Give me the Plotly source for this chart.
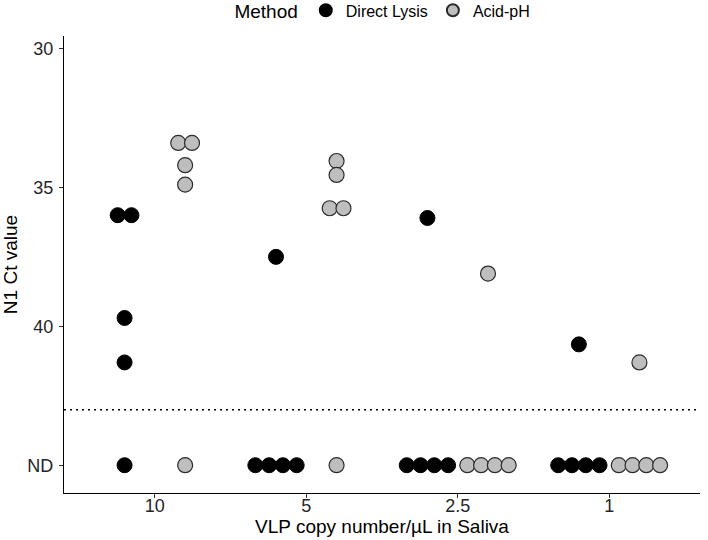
import plotly.graph_objects as go
from collections import defaultdict

# ---- data ----
dose_labels = ["10", "5", "2.5", "1"]
ND = 45  # "not detected" plotted at 45
y_tickvals = [30, 35, 40, 45]
y_ticktext = ["30", "35", "40", "ND"]
cutoff = 43

direct_dose = ["10"] * 5 + ["5"] * 5 + ["2.5"] * 5 + ["1"] * 5
direct_ct = [36.0, 36.0, 39.7, 41.3, ND,
             37.5, ND, ND, ND, ND,
             36.1, ND, ND, ND, ND,
             40.65, ND, ND, ND, ND]

acid_dose = ["10"] * 5 + ["5"] * 5 + ["2.5"] * 5 + ["1"] * 5
acid_ct = [33.4, 33.4, 34.2, 34.9, ND,
           34.05, 34.55, 35.75, 35.75, ND,
           38.1, ND, ND, ND, ND,
           41.3, ND, ND, ND, ND]

# ---- layout helpers (dodge + centered horizontal stacking like geom_dotplot) ----
dodge = 0.2
step = 0.091


def positions(doses, cts, shift):
    groups = defaultdict(list)
    for i, (d, v) in enumerate(zip(doses, cts)):
        groups[(d, v)].append(i)
    xs = [0.0] * len(cts)
    for (d, v), idx in groups.items():
        n = len(idx)
        base = dose_labels.index(d) + 1 + shift
        for k, i in enumerate(idx):
            xs[i] = base + (k - (n - 1) / 2) * step
    return xs


fig = go.Figure()
fig.add_trace(go.Scatter(
    x=positions(direct_dose, direct_ct, -dodge), y=direct_ct,
    mode="markers", name="Direct Lysis",
    marker=dict(size=15, color="#000000", line=dict(color="#000000", width=1)),
))
fig.add_trace(go.Scatter(
    x=positions(acid_dose, acid_ct, dodge), y=acid_ct,
    mode="markers", name="Acid-pH",
    marker=dict(size=15, color="#BEBEBE", line=dict(color="#2b2b2b", width=1.2)),
))

fig.add_shape(type="line", xref="paper", x0=0, x1=1, yref="y", y0=cutoff, y1=cutoff,
              line=dict(color="#000000", width=1.5, dash="2px,4px"))

fig.update_layout(
    width=708, height=540,
    margin=dict(l=64, r=8, t=36, b=47, autoexpand=False),
    paper_bgcolor="white", plot_bgcolor="white",
    font=dict(family="Liberation Sans, Arial, sans-serif", color="#000000"),
    showlegend=True,
    legend=dict(
        orientation="h", x=0.503, xanchor="center", y=1.055, yanchor="middle",
        title=dict(text="Method", font=dict(size=19), side="left"),
        font=dict(size=16), itemsizing="constant", itemwidth=30,
    ),
    xaxis=dict(
        range=[0.4, 4.6], tickvals=[1, 2, 3, 4], ticktext=dose_labels,
        showline=True, linecolor="#000000", linewidth=1.2, mirror=False,
        ticks="outside", ticklen=4, tickcolor="#333333", tickwidth=1.1,
        showgrid=False, zeroline=False, automargin=False,
        ticklabelstandoff=-8,
        tickfont=dict(size=18, color="#262626"),
        title=dict(text="VLP copy number/µL in Saliva", font=dict(size=19), standoff=3),
    ),
    yaxis=dict(
        range=[46.0, 29.55], tickvals=y_tickvals, ticktext=y_ticktext,
        showline=True, linecolor="#000000", linewidth=1.2,
        ticks="outside", ticklen=4, tickcolor="#333333", tickwidth=1.1,
        showgrid=False, zeroline=False, automargin=False,
        ticklabelstandoff=2,
        tickfont=dict(size=18, color="#262626"),
        title=dict(text="N1 Ct value", font=dict(size=19), standoff=4),
    ),
)

fig.write_html("out.html", config={"displayModeBar": False},
               post_script="document.body.style.margin='0px';")
